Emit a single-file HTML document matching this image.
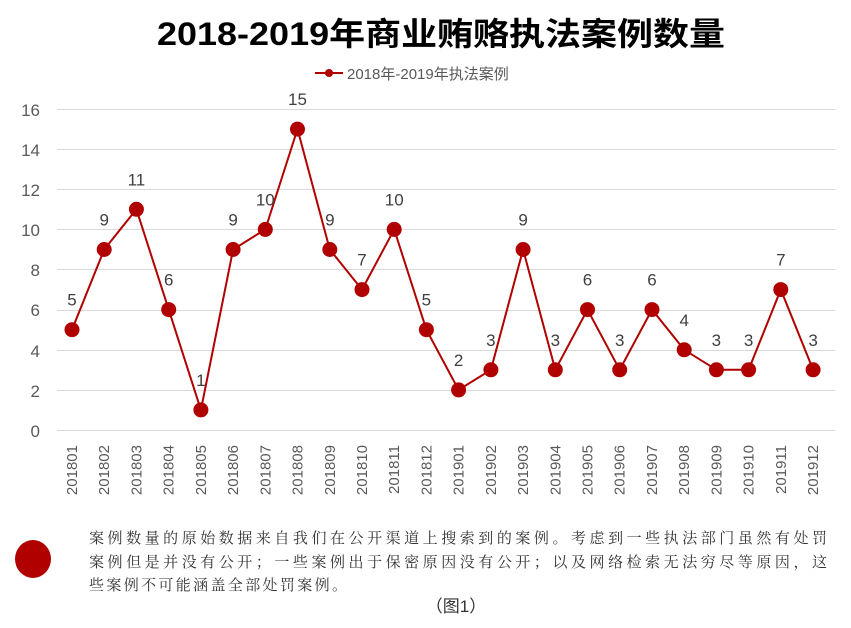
<!DOCTYPE html>
<html><head><meta charset="utf-8"><style>
body{margin:0;background:#fff;width:851px;height:628px;overflow:hidden}
svg{display:block}
</style></head><body>
<svg width="851" height="628" xmlns="http://www.w3.org/2000/svg" font-family="Liberation Sans, Noto Sans CJK SC, sans-serif">
<text x="157" y="45" textLength="568" lengthAdjust="spacingAndGlyphs" font-size="32" font-weight="bold" fill="#000">2018-2019年商业贿赂执法案例数量</text>
<line x1="315" y1="73" x2="343" y2="73" stroke="#b00000" stroke-width="2"/>
<circle cx="329" cy="73" r="4" fill="#b00000"/>
<text x="347" y="79" font-size="15" fill="#595959">2018年-2019年执法案例</text>
<g stroke="#d9d9d9" stroke-width="1">
<line x1="57" y1="109.5" x2="835" y2="109.5"/><line x1="57" y1="149.5" x2="835" y2="149.5"/>
<line x1="57" y1="189.5" x2="835" y2="189.5"/><line x1="57" y1="229.5" x2="835" y2="229.5"/>
<line x1="57" y1="269.5" x2="835" y2="269.5"/><line x1="57" y1="310.5" x2="835" y2="310.5"/>
<line x1="57" y1="350.5" x2="835" y2="350.5"/><line x1="57" y1="390.5" x2="835" y2="390.5"/>
<line x1="57" y1="430.5" x2="835" y2="430.5"/>
</g>
<g font-size="17" fill="#595959" text-anchor="end">
<text x="40" y="116">16</text><text x="40" y="156">14</text><text x="40" y="196">12</text>
<text x="40" y="236">10</text><text x="40" y="276">8</text><text x="40" y="316">6</text>
<text x="40" y="357">4</text><text x="40" y="397">2</text><text x="40" y="437">0</text>
</g>
<polyline fill="none" stroke="#b00000" stroke-width="2" points="72,329.7 104.2,249.5 136.4,209.3 168.7,309.6 200.9,409.9 233.1,249.5 265.3,229.4 297.5,129.1 329.8,249.5 362,289.6 394.2,229.4 426.4,329.7 458.6,389.9 490.9,369.8 523.1,249.5 555.3,369.8 587.5,309.6 619.7,369.8 652,309.6 684.2,349.8 716.4,369.8 748.6,369.8 780.8,289.6 813.1,369.8"/>
<g fill="#b00000">
<circle cx="72" cy="329.7" r="7.5"/><circle cx="104.2" cy="249.5" r="7.5"/><circle cx="136.4" cy="209.3" r="7.5"/><circle cx="168.7" cy="309.6" r="7.5"/><circle cx="200.9" cy="409.9" r="7.5"/><circle cx="233.1" cy="249.5" r="7.5"/><circle cx="265.3" cy="229.4" r="7.5"/><circle cx="297.5" cy="129.1" r="7.5"/><circle cx="329.8" cy="249.5" r="7.5"/><circle cx="362" cy="289.6" r="7.5"/><circle cx="394.2" cy="229.4" r="7.5"/><circle cx="426.4" cy="329.7" r="7.5"/><circle cx="458.6" cy="389.9" r="7.5"/><circle cx="490.9" cy="369.8" r="7.5"/><circle cx="523.1" cy="249.5" r="7.5"/><circle cx="555.3" cy="369.8" r="7.5"/><circle cx="587.5" cy="309.6" r="7.5"/><circle cx="619.7" cy="369.8" r="7.5"/><circle cx="652" cy="309.6" r="7.5"/><circle cx="684.2" cy="349.8" r="7.5"/><circle cx="716.4" cy="369.8" r="7.5"/><circle cx="748.6" cy="369.8" r="7.5"/><circle cx="780.8" cy="289.6" r="7.5"/><circle cx="813.1" cy="369.8" r="7.5"/>
</g>
<g font-size="17" fill="#404040" text-anchor="middle" transform="translate(0,-4)">
<text x="72" y="309.7">5</text><text x="104.2" y="229.5">9</text><text x="136.4" y="189.3">11</text><text x="168.7" y="289.6">6</text><text x="200.9" y="389.9">1</text><text x="233.1" y="229.5">9</text><text x="265.3" y="209.4">10</text><text x="297.5" y="109.1">15</text><text x="329.8" y="229.5">9</text><text x="362" y="269.6">7</text><text x="394.2" y="209.4">10</text><text x="426.4" y="309.7">5</text><text x="458.6" y="369.9">2</text><text x="490.9" y="349.8">3</text><text x="523.1" y="229.5">9</text><text x="555.3" y="349.8">3</text><text x="587.5" y="289.6">6</text><text x="619.7" y="349.8">3</text><text x="652" y="289.6">6</text><text x="684.2" y="329.8">4</text><text x="716.4" y="349.8">3</text><text x="748.6" y="349.8">3</text><text x="780.8" y="269.6">7</text><text x="813.1" y="349.8">3</text>
</g>
<g font-size="15" fill="#595959" text-anchor="end">
<text transform="translate(77,445) rotate(-90)">201801</text>
<text transform="translate(109.2,445) rotate(-90)">201802</text>
<text transform="translate(141.4,445) rotate(-90)">201803</text>
<text transform="translate(173.7,445) rotate(-90)">201804</text>
<text transform="translate(205.9,445) rotate(-90)">201805</text>
<text transform="translate(238.1,445) rotate(-90)">201806</text>
<text transform="translate(270.3,445) rotate(-90)">201807</text>
<text transform="translate(302.5,445) rotate(-90)">201808</text>
<text transform="translate(334.8,445) rotate(-90)">201809</text>
<text transform="translate(367,445) rotate(-90)">201810</text>
<text transform="translate(399.2,445) rotate(-90)">201811</text>
<text transform="translate(431.4,445) rotate(-90)">201812</text>
<text transform="translate(463.6,445) rotate(-90)">201901</text>
<text transform="translate(495.9,445) rotate(-90)">201902</text>
<text transform="translate(528.1,445) rotate(-90)">201903</text>
<text transform="translate(560.3,445) rotate(-90)">201904</text>
<text transform="translate(592.5,445) rotate(-90)">201905</text>
<text transform="translate(624.7,445) rotate(-90)">201906</text>
<text transform="translate(657,445) rotate(-90)">201907</text>
<text transform="translate(689.2,445) rotate(-90)">201908</text>
<text transform="translate(721.4,445) rotate(-90)">201909</text>
<text transform="translate(753.6,445) rotate(-90)">201910</text>
<text transform="translate(785.8,445) rotate(-90)">201911</text>
<text transform="translate(818.1,445) rotate(-90)">201912</text>
</g>
<ellipse cx="33" cy="559" rx="18" ry="19" fill="#b00000"/>
<g font-size="15" fill="#333" font-family="Liberation Serif, Noto Serif CJK SC, serif">
<text x="89" y="543" textLength="738" lengthAdjust="spacing">案例数量的原始数据来自我们在公开渠道上搜索到的案例。考虑到一些执法部门虽然有处罚</text>
<text x="89" y="567" textLength="738" lengthAdjust="spacing">案例但是并没有公开；一些案例出于保密原因没有公开；以及网络检索无法穷尽等原因，这</text>
<text x="89" y="590" textLength="258" lengthAdjust="spacing">些案例不可能涵盖全部处罚案例。</text>
</g>
<text x="456" y="612" text-anchor="middle" font-size="17" fill="#333">（图1）</text>
</svg>
</body></html>
